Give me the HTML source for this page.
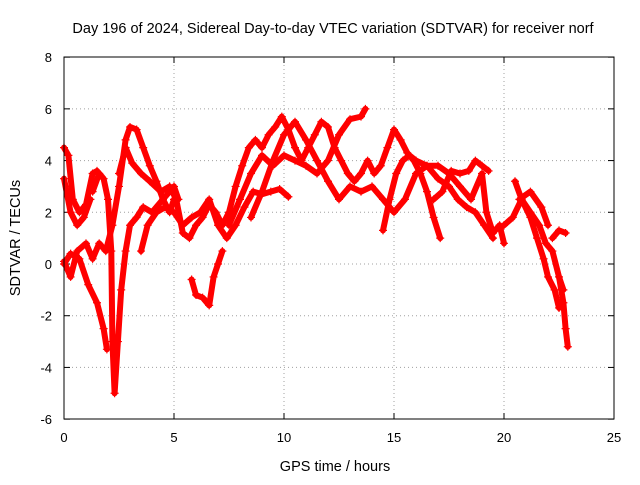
<!DOCTYPE html>
<html><head><meta charset="utf-8"><style>
body{margin:0;background:#fff}
svg text{font-family:"Liberation Sans",sans-serif;fill:#000}
</style></head><body>
<svg id="chart" width="640" height="480">
<text x="333" y="33" text-anchor="middle" font-size="14.5">Day 196 of 2024, Sidereal Day-to-day VTEC variation (SDTVAR) for receiver norf</text>
<text x="335" y="471" text-anchor="middle" font-size="14.5">GPS time / hours</text>
<text transform="translate(20,238) rotate(-90)" text-anchor="middle" font-size="14.5">SDTVAR / TECUs</text>
<g id="grid"></g><g id="ticks"></g><g id="marks"></g>
<rect x="64" y="57" width="550" height="362" fill="none" stroke="#000" stroke-width="1"/>
</svg>
<script>
const xTicks=[0,5,10,15,20,25];
const yTicks=[-6,-4,-2,0,2,4,6,8];
const track1=[[0,4.5],[0.2,4.2],[0.4,2.5],[0.7,2.0],[1.0,2.3],[1.3,3.5],[1.5,3.6]];
const track2=[[0,3.3],[0.3,2.0],[0.6,1.5],[0.9,1.8],[1.2,2.5]];
const track3=[[0,0.1],[0.3,-0.5],[0.6,0.5],[1.0,0.8],[1.3,0.2],[1.6,0.8],[1.9,0.5],[2.2,1.5],[2.5,3.0],[2.8,4.8],[3.0,5.3],[3.3,5.2],[3.6,4.5],[3.9,3.8],[4.2,3.2],[4.5,2.5],[4.8,2.0],[5.0,2.5]];
const track4=[[0,0],[0.3,0.4],[0.7,0.2],[1.1,-0.8],[1.5,-1.5],[1.8,-2.5],[1.95,-3.3]];
const track5=[[1.3,2.8],[1.6,3.5],[1.8,3.3],[2.0,2.5],[2.15,0.5],[2.2,-3],[2.3,-5],[2.45,-3],[2.6,-1],[2.8,0.5],[3.0,1.5],[3.3,1.8],[3.6,2.2],[4.0,2.0],[4.5,2.5],[5.0,3.0],[5.2,2.5]];
const track6=[[2.5,3.5],[2.8,4.5],[3.1,3.9],[3.5,3.5],[3.9,3.2],[4.4,2.8],[4.8,3.0],[5.1,2.5],[5.4,1.2],[5.7,1.0],[6.0,1.5],[6.3,1.8],[6.6,2.3],[6.9,2.0],[7.2,1.5],[7.5,2.0],[7.8,3.0],[8.1,3.8],[8.4,4.5],[8.7,4.8],[9.0,4.5],[9.3,5.0],[9.6,5.3],[9.9,5.7],[10.2,5.2],[10.5,4.5],[10.8,4.0],[11.1,4.5],[11.4,5.0],[11.7,5.5],[12.0,5.3],[12.3,4.5],[12.6,4.0],[12.9,3.5],[13.2,3.2],[13.5,3.5],[13.8,4.0],[14.1,3.5],[14.4,3.8],[14.7,4.5],[15.0,5.2],[15.3,4.8],[15.6,4.3],[15.9,4.0],[16.2,3.5],[16.5,2.8],[16.8,1.8],[17.1,1.0]];
const track7=[[3.5,0.5],[3.8,1.5],[4.2,2.0],[4.6,2.2],[5.0,2.0],[5.4,1.5],[5.8,1.8],[6.2,2.0],[6.6,2.5],[7.0,1.5],[7.4,1.0],[7.8,1.5],[8.2,2.2],[8.6,2.8],[9.0,2.7],[9.4,2.8],[9.8,2.9],[10.2,2.6]];
const track8=[[5.8,-0.6],[6.0,-1.2],[6.3,-1.3],[6.6,-1.6],[6.8,-0.5],[7.0,0],[7.2,0.5]];
const track9=[[7.5,1.5],[8.0,2.5],[8.5,3.5],[9.0,4.2],[9.5,3.8],[10.0,4.2],[10.5,4.0],[11.0,3.8],[11.5,3.5],[12.0,4.0],[12.5,5.0],[13.0,5.6],[13.5,5.7],[13.7,6.0]];
const track10=[[8.5,1.8],[9.0,2.8],[9.5,4.0],[10.0,5.0],[10.5,5.5],[11.0,4.8],[11.5,4.0],[12.0,3.2],[12.5,2.5],[13.0,3.0],[13.5,2.8],[14.0,3.0],[14.5,2.5],[15.0,2.0],[15.5,2.5],[16.0,3.5],[16.5,3.8],[17.0,3.8],[17.5,3.5],[18.0,3.0],[18.5,2.5],[19.0,3.5],[19.2,2.0],[19.5,1.2],[19.8,1.5],[20.0,0.8]];
const track11=[[14.5,1.3],[14.8,2.5],[15.1,3.5],[15.4,4.0],[15.7,4.2],[16.0,4.0],[16.5,3.8],[17.0,3.3],[17.5,3.0],[17.9,2.5],[18.3,2.2],[18.7,2.0],[19.1,1.5],[19.5,1.0]];
const track12=[[16.8,2.5],[17.2,2.8],[17.6,3.6],[18.0,3.5],[18.4,3.6],[18.7,4.0],[19.0,3.8],[19.3,3.6]];
const track13=[[20.0,1.5],[20.4,1.8],[20.8,2.5],[21.2,2.0],[21.6,1.5],[21.9,0.8],[22.2,0.5],[22.5,-0.5],[22.7,-1.0]];
const track14=[[20.5,3.2],[20.8,2.5],[21.2,1.8],[21.5,1.0],[21.8,0.2],[22.0,-0.5],[22.3,-1.0],[22.5,-1.7]];
const track15=[[22.2,1.0],[22.5,1.3],[22.8,1.2]];
const track16=[[22.5,-0.5],[22.7,-1.5],[22.8,-2.5],[22.9,-3.2]];
const track17=[[20.7,2.5],[21.2,2.8],[21.7,2.2],[22.0,1.5]];
const tracks=[track1,track2,track3,track4,track5,track6,track7,track8,track9,track10,track11,track12,track13,track14,track15,track16,track17];
const NS='http://www.w3.org/2000/svg';
function xs(v){return 64+v*22;}
function ys(v){return 264-v*(362/14);}
const grid=document.getElementById('grid'),ticks=document.getElementById('ticks'),marks=document.getElementById('marks');
function mk(tag,attrs,parent){const e=document.createElementNS(NS,tag);for(const k in attrs)e.setAttribute(k,attrs[k]);parent.appendChild(e);return e;}
xTicks.forEach(t=>{
  const x=xs(t);
  if(t>0&&t<25){const g=mk('line',{x1:x,x2:x,y1:57,y2:419,stroke:'#a0a0a0','stroke-dasharray':'1,3'},grid);
  
  }
  const l=mk('text',{x:x,y:442,'text-anchor':'middle','font-size':'13'},ticks);l.textContent=t;
  
  
  mk('line',{x1:x,x2:x,y1:419,y2:413,stroke:'#000'},ticks);
  mk('line',{x1:x,x2:x,y1:57,y2:63,stroke:'#000'},ticks);
});
yTicks.forEach(t=>{
  const y=ys(t);
  if(t>-6&&t<8){const g=mk('line',{x1:64,x2:614,y1:y,y2:y,stroke:'#a0a0a0','stroke-dasharray':'1,3'},grid);
  
  }
  const l=mk('text',{x:52,y:y+5,'text-anchor':'end','font-size':'13'},ticks);l.textContent=t;
  
  
  mk('line',{x1:64,x2:70,y1:y,y2:y,stroke:'#000'},ticks);
  mk('line',{x1:614,x2:608,y1:y,y2:y,stroke:'#000'},ticks);
});
tracks.forEach((tr,i)=>{
  const pl=mk('polyline',{points:tr.map(p=>xs(p[0])+','+ys(p[1])).join(' '),fill:'none',stroke:'#ff0000','stroke-width':'6','stroke-linejoin':'round','stroke-linecap':'round'},marks);
  
  
  tr.forEach(p=>{
    const x=xs(p[0]),y=ys(p[1]);
    const m=mk('path',{d:`M${x-4},${y}H${x+4}M${x},${y-4}V${y+4}`,stroke:'#ff0000','stroke-width':'1.2'},marks);
    
    
  });
});
</script>
</body></html>
